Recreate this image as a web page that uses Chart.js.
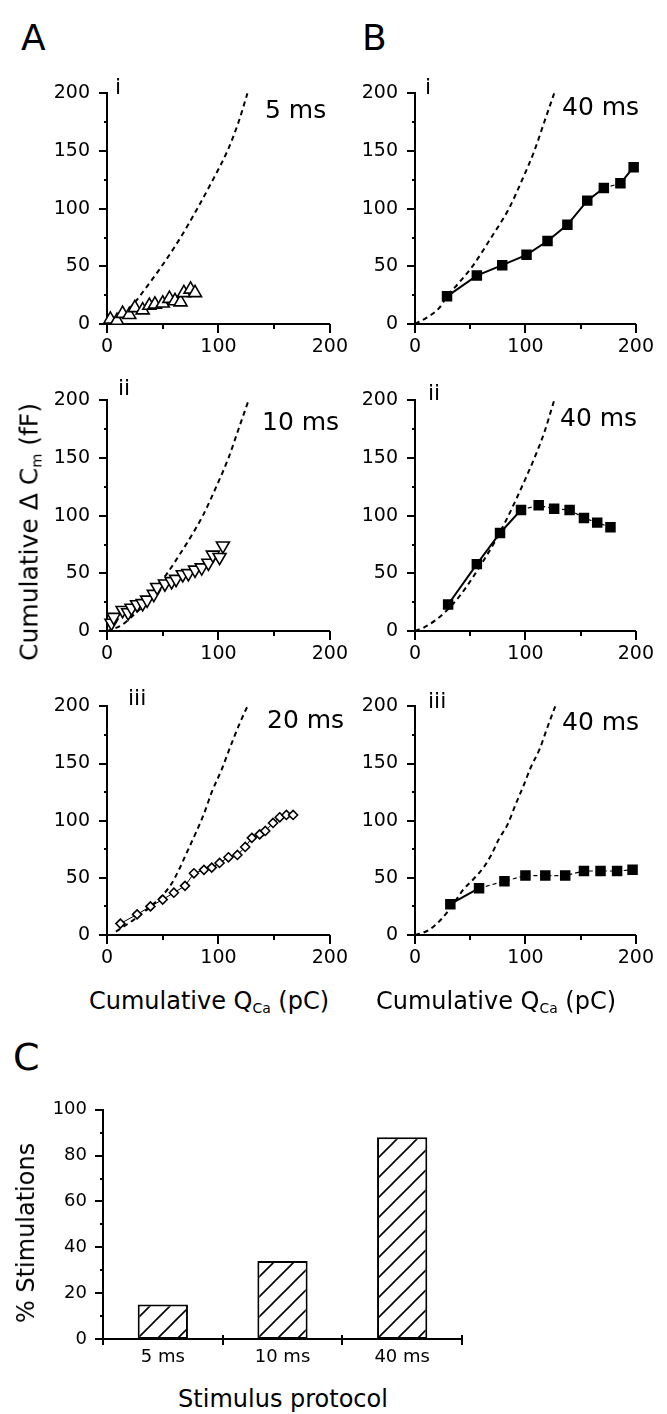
<!DOCTYPE html>
<html>
<head>
<meta charset="utf-8">
<script src="https://cdn.jsdelivr.net/npm/chart.js@4.4.0/dist/chart.umd.min.js"></script>
<style>
body { margin: 0; background: #fff; }
#fig { position: relative; width: 667px; height: 1414px; overflow: hidden; font-family: "DejaVu Sans", sans-serif; color: #000; }
#fig canvas { position: absolute; }
.t { position: absolute; white-space: nowrap; line-height: 1; }
.ctr { transform: translateX(-50%); }
.rot { transform: translate(-50%, -50%) rotate(-90deg); }
sub { font-size: 0.58em; vertical-align: -0.3em; line-height: 0; }
</style>
</head>
<body>
<div id="fig">
  <canvas id="a1"></canvas>
  <canvas id="b1"></canvas>
  <canvas id="a2"></canvas>
  <canvas id="b2"></canvas>
  <canvas id="a3"></canvas>
  <canvas id="b3"></canvas>
  <canvas id="c"></canvas>

  <div class="t" style="left:21px;top:20px;font-size:36px">A</div>
  <div class="t" style="left:362px;top:20px;font-size:36px">B</div>
  <div class="t" style="left:13px;top:1038px;font-size:38px">C</div>

  <div class="t" style="left:115px;top:76px;font-size:22px">i</div>
  <div class="t" style="left:425px;top:76px;font-size:22px">i</div>
  <div class="t" style="left:118px;top:377px;font-size:22px">ii</div>
  <div class="t" style="left:428px;top:382px;font-size:22px">ii</div>
  <div class="t" style="left:128px;top:687px;font-size:22px">iii</div>
  <div class="t" style="left:428px;top:690px;font-size:22px">iii</div>

  <div class="t" style="left:265px;top:97px;font-size:25px">5 ms</div>
  <div class="t" style="left:562px;top:94px;font-size:25px">40 ms</div>
  <div class="t" style="left:262px;top:409px;font-size:25px">10 ms</div>
  <div class="t" style="left:560px;top:405px;font-size:25px">40 ms</div>
  <div class="t" style="left:267px;top:707px;font-size:25px">20 ms</div>
  <div class="t" style="left:562px;top:709px;font-size:25px">40 ms</div>

  <div class="t rot" style="left:29px;top:532px;font-size:25px">Cumulative Δ C<sub>m</sub> (fF)</div>
  <div class="t ctr" style="left:209px;top:989px;font-size:24px">Cumulative Q<sub>Ca</sub> (pC)</div>
  <div class="t ctr" style="left:496px;top:989px;font-size:24px">Cumulative Q<sub>Ca</sub> (pC)</div>

  <div class="t rot" style="left:26px;top:1233px;font-size:24px">% Stimulations</div>
  <div class="t ctr" style="left:283px;top:1387px;font-size:24px">Stimulus protocol</div>
</div>

<script>
// ---- data (Q in pC, dCm in fF) ----

// A i, 5 ms trains (open triangles)
const a1Q = [3, 9, 14, 20, 25, 32, 38, 43, 50, 56, 61, 66, 69, 75, 79];
const a1C = [4, 3, 9, 8, 14, 12, 16, 17, 18, 22, 20, 19, 27, 30, 27];

// A ii, 10 ms trains (open inverted triangles)
const a2Q = [4, 6, 14, 19, 22, 27, 32, 36, 42, 45, 52, 58, 62, 68, 73, 79, 85, 91, 95, 101, 104];
const a2C = [7, 12, 18, 16, 20, 23, 24, 27, 32, 38, 41, 43, 45, 49, 50, 53, 55, 59, 66, 64, 74];

// A iii, 20 ms trains (open diamonds)
const a3Q = [12, 27, 39, 50, 60, 70, 78, 87, 94, 101, 109, 117, 124, 130, 137, 142, 149, 155, 161, 167];
const a3C = [10, 18, 25, 31, 37, 43, 54, 57, 59, 63, 68, 70, 77, 85, 88, 91, 98, 103, 105, 105];

// B i-iii, 40 ms trains (filled squares)
const b1Q = [29, 56, 79, 101, 120, 138, 156, 171, 186, 198];
const b1C = [24, 42, 51, 60, 72, 86, 107, 118, 122, 136];
const b2Q = [30, 56, 77, 96, 112, 126, 140, 153, 165, 177];
const b2C = [23, 58, 85, 105, 109, 106, 105, 98, 94, 90];
const b3Q = [32, 58, 81, 100, 118, 136, 153, 168, 183, 197];
const b3C = [27, 41, 47, 52, 52, 52, 56, 56, 56, 57];

// dashed reference curves
const fitA1Q = [0, 12, 26, 30, 49, 66, 81, 95, 108, 118, 126];
const fitA1C = [0, 6, 20, 25, 50, 75, 100, 125, 150, 175, 200];
const fitA2Q = [0, 13, 24, 35, 44, 54, 65, 76, 86, 98, 109, 118, 127];
const fitA2C = [0, 5, 14, 25, 38, 50, 66, 83, 100, 125, 150, 175, 200];
const fitA3Q = [8, 25, 38, 51, 58, 65, 72, 80, 87, 94, 103, 110, 119, 126];
const fitA3C = [3, 14, 24, 36, 45, 58, 73, 90, 106, 125, 145, 163, 185, 200];
const fitB1Q = [0, 13, 22, 29, 40, 52, 69, 85, 97, 108, 117, 126];
const fitB1C = [0, 7, 14, 24, 36, 50, 75, 100, 125, 150, 175, 200];
const fitB2Q = [0, 8, 18, 30, 41, 52, 62, 72, 82, 91, 100, 109, 117, 126];
const fitB2C = [0, 3, 9, 19, 31, 46, 61, 77, 95, 113, 132, 152, 172, 200];
const fitB3Q = [0, 12, 24, 36, 44, 53, 62, 69, 76, 84, 91, 98, 105, 113, 120, 127];
const fitB3C = [0, 4, 14, 29, 40, 49, 59, 70, 84, 97, 114, 130, 147, 163, 182, 200];

// C
const protocols = ['5 ms', '10 ms', '40 ms'];
const pctStim = [15, 34, 88];

// ---- layout ----
const YW = 70, XH = 40, PT = 14, PR = 22;

Chart.defaults.font.family = '"DejaVu Sans", sans-serif';
Chart.defaults.color = '#000';

function pts(xs, ys) {
  return xs.map((x, i) => ({ x: x, y: ys[i] }));
}

function place(id, plot) {
  const cv = document.getElementById(id);
  cv.width = YW + plot.w + PR;
  cv.height = PT + plot.h + XH;
  cv.style.left = (plot.x - YW) + 'px';
  cv.style.top = (plot.y - PT) + 'px';
  return cv;
}

// major / minor tick marks drawn from the scales
const tickMarks = {
  id: 'tickMarks',
  afterDraw(chart, args, opts) {
    const ctx = chart.ctx;
    const xs = chart.scales.x, ys = chart.scales.y;
    ctx.save();
    ctx.strokeStyle = '#000';
    ctx.lineWidth = 2;
    ctx.beginPath();
    ys.ticks.forEach(t => {
      const py = Math.round(ys.getPixelForValue(t.value));
      const len = t.value % opts.yMajor === 0 ? 8 : 3;
      ctx.moveTo(ys.right - len, py);
      ctx.lineTo(ys.right, py);
    });
    if (xs.type === 'category') {
      for (let i = 0; i <= xs.ticks.length; i++) {
        const px = Math.round(xs.getPixelForValue(i - 0.5));
        ctx.moveTo(px, xs.top - 4);
        ctx.lineTo(px, xs.top + 6);
      }
    } else {
      xs.ticks.forEach(t => {
        const px = Math.round(xs.getPixelForValue(t.value));
        const len = t.value % opts.xMajor === 0 ? 9 : 5;
        ctx.moveTo(px, xs.top);
        ctx.lineTo(px, xs.top + len);
      });
    }
    ctx.stroke();
    ctx.restore();
  }
};

function qcScales() {
  return {
    x: {
      type: 'linear', min: 0, max: 200,
      grid: { display: false, drawTicks: false },
      border: { display: true, color: '#000', width: 2 },
      ticks: { stepSize: 50, autoSkip: false, maxRotation: 0, padding: 12, font: { size: 19 },
        callback: v => (v % 100 === 0 ? v : '') },
      afterFit: s => { s.height = XH; }
    },
    y: {
      type: 'linear', min: 0, max: 200,
      grid: { display: false, drawTicks: false },
      border: { display: true, color: '#000', width: 2 },
      ticks: { stepSize: 25, autoSkip: false, padding: 17, font: { size: 19 },
        callback: v => (v % 50 === 0 ? v : '') },
      afterFit: s => { s.width = YW; }
    }
  };
}

function fitLine(xs, ys) {
  return {
    data: pts(xs, ys), showLine: true, pointRadius: 0, borderColor: '#000',
    borderWidth: 2, borderDash: [5, 4], cubicInterpolationMode: 'monotone', clip: false
  };
}

function panel(id, plot, series, fit) {
  new Chart(place(id, plot), {
    type: 'scatter',
    data: { datasets: [series, fit] },
    options: {
      responsive: false, animation: false, events: [],
      layout: { padding: { top: PT, right: PR, left: 0, bottom: 0 } },
      plugins: { legend: { display: false }, tooltip: { enabled: false }, tickMarks: { xMajor: 100, yMajor: 50 } },
      scales: qcScales()
    },
    plugins: [tickMarks]
  });
}

const colA = { x: 107, w: 231 }, colB = { x: 415, w: 229 };
const row1 = { y: 79, h: 245 }, row2 = { y: 386, h: 245 }, row3 = { y: 692, h: 243 };
const box = (c, r) => ({ x: c.x, w: c.w, y: r.y, h: r.h });

const openPt = { borderColor: '#000', backgroundColor: '#fff', pointBorderWidth: 1.6, clip: false };

panel('a1', box(colA, row1),
  Object.assign({ data: pts(a1Q, a1C), pointStyle: 'triangle', pointRadius: 7.5 }, openPt),
  fitLine(fitA1Q, fitA1C));

panel('a2', box(colA, row2),
  Object.assign({ data: pts(a2Q, a2C), pointStyle: 'triangle', rotation: 180, pointRadius: 7.5 }, openPt),
  fitLine(fitA2Q, fitA2C));

panel('a3', box(colA, row3),
  Object.assign({ data: pts(a3Q, a3C), pointStyle: 'rectRot', pointRadius: 4.5, showLine: true, borderWidth: 1 }, openPt),
  fitLine(fitA3Q, fitA3C));

function squares(xs, ys, dashFrom, dashTo) {
  return {
    data: pts(xs, ys), showLine: true, pointStyle: 'rect', pointRadius: 6,
    borderColor: '#000', backgroundColor: '#000', borderWidth: 2, clip: false,
    segment: {
      borderDash: ctx => (ctx.p0DataIndex >= dashFrom && ctx.p0DataIndex < dashTo ? [4, 3] : undefined),
      borderWidth: ctx => (ctx.p0DataIndex >= dashFrom && ctx.p0DataIndex < dashTo ? 1.2 : 2)
    }
  };
}

panel('b1', box(colB, row1), squares(b1Q, b1C, 7, 8), fitLine(fitB1Q, fitB1C));
panel('b2', box(colB, row2), squares(b2Q, b2C, 3, 99), fitLine(fitB2Q, fitB2C));
panel('b3', box(colB, row3), squares(b3Q, b3C, 1, 99), fitLine(fitB3Q, fitB3C));

// C: hatched bars
const tile = document.createElement('canvas');
tile.width = 20; tile.height = 20;
const tc = tile.getContext('2d');
tc.fillStyle = '#fff';
tc.fillRect(0, 0, 20, 20);
tc.strokeStyle = '#000';
tc.lineWidth = 1.6;
tc.beginPath();
tc.moveTo(-5, 25); tc.lineTo(25, -5);
tc.moveTo(-5, 5); tc.lineTo(5, -5);
tc.moveTo(15, 25); tc.lineTo(25, 15);
tc.stroke();

const cCanvas = place('c', { x: 103, y: 1097, w: 359, h: 242 });
const hatch = cCanvas.getContext('2d').createPattern(tile, 'repeat');

new Chart(cCanvas, {
  type: 'bar',
  data: {
    labels: protocols,
    datasets: [{
      data: pctStim, backgroundColor: hatch, borderColor: '#000', borderWidth: 2,
      borderSkipped: false, barPercentage: 0.42, categoryPercentage: 1
    }]
  },
  options: {
    responsive: false, animation: false, events: [],
    layout: { padding: { top: PT, right: PR, left: 0, bottom: 0 } },
    plugins: { legend: { display: false }, tooltip: { enabled: false }, tickMarks: { yMajor: 20 } },
    scales: {
      x: {
        grid: { display: false, drawTicks: false },
        border: { display: true, color: '#000', width: 2 },
        ticks: { padding: 8, font: { size: 18 }, maxRotation: 0 },
        afterFit: s => { s.height = XH; }
      },
      y: {
        min: 0, max: 100,
        grid: { display: false, drawTicks: false },
        border: { display: true, color: '#000', width: 2 },
        ticks: { stepSize: 10, autoSkip: false, padding: 16, font: { size: 18 },
          callback: v => (v % 20 === 0 ? v : '') },
        afterFit: s => { s.width = YW; }
      }
    }
  },
  plugins: [tickMarks]
});
</script>
</body>
</html>
